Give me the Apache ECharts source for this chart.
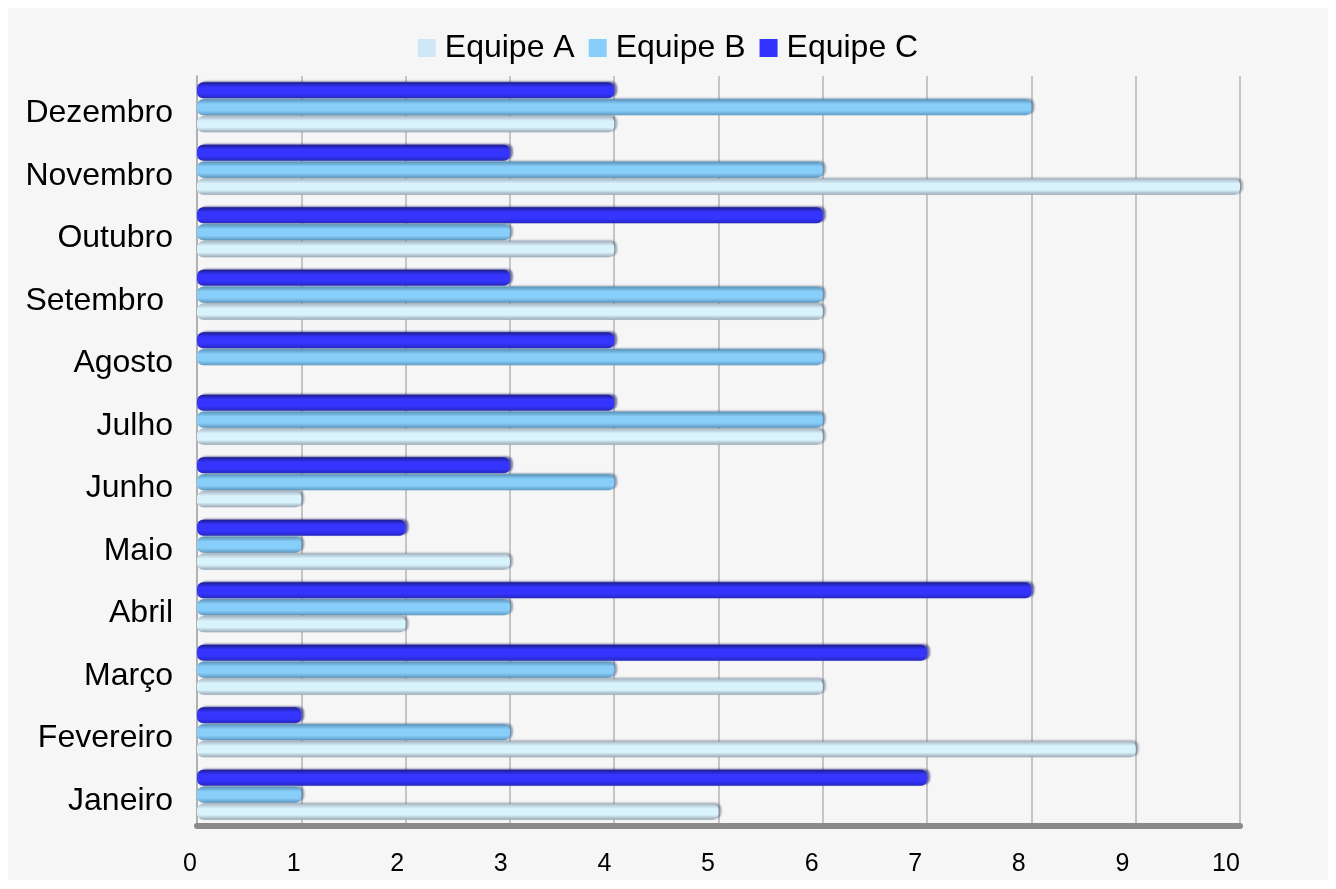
<!DOCTYPE html>
<html>
<head>
<meta charset="utf-8">
<script src="https://cdn.jsdelivr.net/npm/echarts@6/dist/echarts.min.js"></script>
<style>
html,body{margin:0;padding:0;background:#fff;}
#c{width:1336px;height:889px;}
</style>
</head>
<body>
<div id="c"></div>
<script>
const categories = ['Janeiro','Fevereiro','Março','Abril','Maio','Junho','Julho','Agosto','Setembro ','Outubro','Novembro','Dezembro'];
const equipeA = [5, 9, 6, 2, 3, 1, 6, 0, 6, 4, 10, 4];
const equipeB = [1, 3, 4, 3, 1, 4, 6, 6, 6, 3, 6, 8];
const equipeC = [7, 1, 7, 8, 2, 3, 4, 4, 3, 6, 3, 4];
const xTicks = [0,1,2,3,4,5,6,7,8,9,10];

const FONT = 'Liberation Sans, Arial, sans-serif';
function grad(edgeTop, mid, edgeBot){
  return new echarts.graphic.LinearGradient(0,0,0,1,[
    {offset:0,color:edgeTop},{offset:0.3,color:mid},{offset:0.7,color:mid},{offset:1,color:edgeBot}
  ]);
}
const chart = echarts.init(document.getElementById('c'));
const barCommon = {
  type:'bar', barWidth:16, barGap:'6%',
};
chart.setOption({
  backgroundColor:'#ffffff',
  animation:false,
  graphic:[{type:'rect',shape:{x:8,y:8,width:1320,height:872},style:{fill:'#f6f6f6'},z:-10,silent:true}],
  legend:{
    top:27, left:'center', icon:'rect', itemWidth:18, itemHeight:18, itemGap:14,
    textStyle:{fontSize:32,fontFamily:FONT,color:'#000',padding:[0,0,0,4]},
    data:[
      {name:'Equipe A',itemStyle:{color:'#cfe6f5'}},
      {name:'Equipe B',itemStyle:{color:'#87cefa'}},
      {name:'Equipe C',itemStyle:{color:'#3333ff'}}
    ]
  },
  grid:[
    {left:197,right:96,top:76,bottom:63},
    {left:190,right:110,top:82,bottom:57}
  ],
  xAxis:[
    {type:'value',min:0,max:10,interval:1,gridIndex:0,
     axisLine:{show:true,lineStyle:{color:'#8a8a8a',width:6}},
     axisTick:{show:false},axisLabel:{show:false},
     splitLine:{show:true,lineStyle:{color:'#b4b4b4',width:1.5}}},
    {type:'value',min:0,max:10,interval:1,gridIndex:1,
     axisLine:{show:false},axisTick:{show:false},splitLine:{show:false},
     axisLabel:{fontSize:25,fontFamily:FONT,color:'#000',margin:20}}
  ],
  yAxis:[
    {type:'category',data:categories,gridIndex:0,
     axisLine:{show:true,lineStyle:{color:'#aaaaaa',width:1.5}},
     axisTick:{show:false},axisLabel:{show:false}},
    {type:'category',data:categories,gridIndex:1,
     axisLine:{show:false},axisTick:{show:false},splitLine:{show:false},
     axisLabel:{fontSize:32,fontFamily:FONT,color:'#000',margin:17}}
  ],
  series:[
    Object.assign({},barCommon,{name:'Equipe C',data:equipeC,
      itemStyle:{color:grad('#1c1c90','#3535ff','#2626c0'),borderRadius:6,
        shadowColor:'rgba(20,20,100,0.55)',shadowOffsetX:3,shadowOffsetY:-1,shadowBlur:2}}),
    Object.assign({},barCommon,{name:'Equipe B',data:equipeB,
      itemStyle:{color:grad('#5a93b8','#87cefa','#5f9cc4'),borderRadius:6,
        shadowColor:'rgba(40,80,120,0.5)',shadowOffsetX:3,shadowOffsetY:-1,shadowBlur:2}}),
    Object.assign({},barCommon,{name:'Equipe A',data:equipeA,
      itemStyle:{color:grad('#a8b8c6','#d9f3fd','#9aa9b6'),borderRadius:6,
        shadowColor:'rgba(60,80,100,0.45)',shadowOffsetX:3,shadowOffsetY:-1,shadowBlur:2}})
  ]
});
</script>
</body>
</html>
